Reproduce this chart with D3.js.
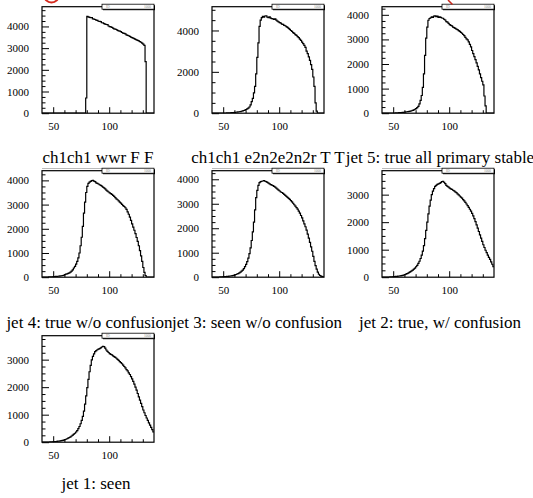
<!DOCTYPE html>
<html><head><meta charset="utf-8">
<script src="https://cdn.jsdelivr.net/npm/d3@7"></script>
<style>
html,body{margin:0;padding:0;background:#fff;}
svg{display:block;font-family:"Liberation Serif","Times New Roman",Times,serif;}
</style>
</head><body>
<svg id="chart" width="533" height="498"></svg>
<script>
// ---------------- DATA ----------------
const titles = [
  "ch1ch1 wwr F F",
  "ch1ch1 e2n2e2n2r T T",
  "jet 5: true all primary stable",
  "jet 4: true w/o confusion",
  "jet 3: seen w/o confusion",
  "jet 2: true, w/ confusion",
  "jet 1: seen"
];
const xDomain = [40, 140];
const binLow = 40;
const binWidth = 1;
const xMajorTicks = [50, 100];
const xMinorTicks = [60, 70, 80, 90, 110, 120, 130];

// bin contents, bins of width 1 starting at 40 (100 bins)
const hWwrFF = [
  0,0,0,0,0,0,0,0,0,0,
  0,0,0,0,0,0,0,0,0,0,
  0,0,0,0,0,0,0,0,0,0,
  0,0,0,0,0,0,0,0,0,700,
  4460,4440,4420,4400,4410,4350,4340,4320,4290,4280,
  4240,4230,4220,4170,4160,4130,4110,4090,4080,4020,
  3990,3980,3960,3920,3890,3880,3860,3820,3800,3780,
  3760,3720,3690,3680,3660,3610,3590,3570,3540,3510,
  3480,3460,3440,3400,3380,3360,3330,3300,3270,3230,
  3180,3130,2380,0,0,0,0,0,0,0];
const hE2n2TT = [
  0,0,0,0,0,0,0,0,0,0,
  5,8,10,12,15,18,22,26,30,35,
  40,46,52,60,70,80,95,110,130,150,
  180,210,250,300,400,560,720,980,1300,1900,
  2700,3400,4200,4500,4620,4680,4640,4700,4710,4650,
  4620,4660,4600,4570,4560,4530,4560,4500,4450,4420,
  4380,4360,4310,4300,4250,4230,4190,4150,4100,4050,
  4000,3960,3900,3860,3800,3760,3700,3650,3580,3520,
  3440,3360,3280,3180,3000,2880,2720,2550,2350,2120,
  1750,1300,500,100,0,0,0,0,0,0];
const hJet5 = [
  0,0,0,0,0,0,0,0,0,0,
  5,8,10,13,16,20,24,28,32,38,
  44,50,58,66,76,88,100,115,135,160,
  190,230,280,380,520,720,1050,1600,2350,3050,
  3500,3780,3850,3880,3920,3900,3950,3960,3930,3950,
  3890,3920,3900,3870,3860,3820,3790,3720,3700,3650,
  3600,3570,3550,3500,3480,3450,3420,3400,3360,3330,
  3290,3250,3200,3150,3080,3020,2980,2900,2800,2700,
  2550,2420,2300,2180,2050,1900,1760,1600,1450,1300,
  1150,700,300,0,0,0,0,0,0,0];
const hJet4 = [
  0,0,2,4,6,8,10,12,15,18,
  22,26,30,35,40,46,52,60,70,80,
  110,125,140,160,180,210,250,300,380,450,
  540,650,800,1000,1300,1650,2100,2650,3100,3500,
  3750,3880,3930,3960,3990,4000,3970,3950,3900,3880,
  3850,3820,3790,3760,3720,3690,3650,3600,3560,3520,
  3480,3450,3420,3380,3340,3290,3240,3200,3150,3100,
  3060,3010,2960,2920,2870,2800,2700,2600,2480,2350,
  2200,2070,1940,1800,1640,1480,1300,1100,880,650,
  400,200,70,0,0,0,0,0,0,0];
const hJet3 = [
  0,0,2,3,5,7,9,11,14,17,
  20,24,28,32,37,42,48,55,63,72,
  95,110,130,150,175,205,245,290,350,430,
  520,640,780,960,1200,1500,1850,2250,2750,3250,
  3550,3750,3860,3900,3920,3930,3950,3920,3900,3870,
  3840,3810,3780,3760,3740,3710,3680,3640,3600,3560,
  3520,3480,3460,3420,3380,3340,3300,3260,3220,3180,
  3130,3080,3020,2960,2900,2840,2780,2700,2620,2520,
  2420,2300,2180,2060,1920,1760,1600,1420,1240,1060,
  850,650,470,330,210,120,70,40,20,8];
const hJet2 = [
  0,0,0,2,4,6,8,10,13,16,
  20,24,28,33,38,44,50,58,68,80,
  95,110,130,150,175,200,230,260,295,330,
  380,430,500,580,680,800,950,1150,1400,1700,
  2000,2300,2580,2800,3000,3130,3220,3300,3340,3370,
  3390,3410,3440,3470,3480,3450,3400,3340,3300,3270,
  3240,3210,3190,3160,3140,3100,3070,3030,2990,2950,
  2910,2870,2820,2770,2720,2660,2600,2540,2470,2400,
  2320,2230,2130,2020,1900,1780,1660,1540,1420,1300,
  1180,1080,980,890,800,720,650,560,470,380];
const hJet1 = [
  0,0,0,1,3,5,7,9,12,15,
  18,22,26,31,36,42,48,56,66,78,
  92,108,126,146,170,195,225,255,290,325,
  370,420,490,570,670,790,940,1130,1380,1680,
  1980,2280,2560,2790,2990,3120,3210,3290,3330,3360,
  3380,3400,3430,3460,3480,3470,3420,3350,3300,3260,
  3220,3190,3170,3140,3110,3080,3050,3010,2970,2930,
  2890,2850,2800,2750,2700,2640,2590,2520,2460,2380,
  2300,2210,2110,2000,1890,1770,1650,1530,1410,1290,
  1170,1070,970,880,790,700,620,540,460,370];
const series = [hWwrFF, hE2n2TT, hJet5, hJet4, hJet3, hJet2, hJet1];
const yMax = [4910, 5150, 4330, 4400, 4350, 3870, 3870];
const yMajorStep = [1000, 2000, 1000, 1000, 1000, 1000, 1000];
const yMinorDiv = 4;
const statsLeftText = "ID";
const statsRightText = "1000";

// ---------------- LAYOUT ----------------
const L = {
  colX: [42, 212, 382], rowY: [6.7, 170.7, 335.7], w: 112, h: 106.5,
  titleX: [98, 268, 440, 89.5, 257, 440, 96],
  titleY: [163, 328, 489]
};
const SERIF = '"Liberation Serif","Times New Roman",Times,serif';

const svg = d3.select("#chart");
svg.append("rect").attr("width",533).attr("height",498).attr("fill","#fff");

series.forEach((vals, i) => {
  const col = i % 3, row = Math.floor(i / 3);
  const fx = L.colX[col], fy = L.rowY[row];
  const g = svg.append("g").attr("transform", `translate(${fx},${fy})`);
  const x = d3.scaleLinear().domain(xDomain).range([0, L.w]);
  const y = d3.scaleLinear().domain([0, yMax[i]]).range([L.h, 0]);

  const cid = "clip" + i;
  g.append("clipPath").attr("id", cid).append("rect").attr("width", L.w).attr("height", L.h);

  // histogram step outline
  const pts = [];
  vals.forEach((v, k) => {
    const x0 = binLow + k * binWidth, x1 = x0 + binWidth;
    pts.push([x(x0), y(v)], [x(x1), y(v)]);
  });
  g.append("path").attr("clip-path", `url(#${cid})`)
    .attr("d", d3.line()(pts))
    .attr("fill", "none").attr("stroke", "#000").attr("stroke-width", 1.2);

  // Y axis
  const majors = d3.range(0, yMax[i] + 1e-6, yMajorStep[i]);
  const minors = d3.range(0, yMax[i] + 1e-6, yMajorStep[i] / yMinorDiv).filter(v => majors.indexOf(v) < 0);
  const ya = g.append("g").call(d3.axisLeft(y).tickValues(majors).tickSize(-7).tickPadding(13).tickFormat(d3.format("d")));
  ya.attr("font-family", null);
  ya.select(".domain").remove();
  ya.selectAll("line").attr("stroke", "#000");
  ya.selectAll("text").attr("fill", "#000").style("font-family", SERIF).style("font-size", "11px");
  const ym = g.append("g").call(d3.axisLeft(y).tickValues(minors).tickSize(-3.5).tickFormat(""));
  ym.select(".domain").remove();
  ym.selectAll("line").attr("stroke", "#000");

  // X axis
  const xa = g.append("g").attr("transform", `translate(0,${L.h})`)
    .call(d3.axisBottom(x).tickValues(xMajorTicks).tickSize(-6).tickPadding(9).tickFormat(d3.format("d")));
  xa.attr("font-family", null);
  xa.select(".domain").remove();
  xa.selectAll("line").attr("stroke", "#000");
  xa.selectAll("text").attr("fill", "#000").style("font-family", SERIF).style("font-size", "11px");
  const xm = g.append("g").attr("transform", `translate(0,${L.h})`)
    .call(d3.axisBottom(x).tickValues(xMinorTicks).tickSize(-3).tickFormat(""));
  xm.select(".domain").remove();
  xm.selectAll("line").attr("stroke", "#000");

  // frame
  g.append("rect").attr("width", L.w).attr("height", L.h)
    .attr("fill", "none").attr("stroke", "#000").attr("stroke-width", 1.2);

  // stats box
  const sb = g.append("g").attr("transform", `translate(${L.w - 52},-2.5)`);
  sb.append("rect").attr("x", 1).attr("y", 1).attr("width", 52).attr("height", 5).attr("fill", "#000");
  sb.append("rect").attr("width", 52).attr("height", 5).attr("fill", "#fff").attr("stroke", "#000").attr("stroke-width", 0.8);
  sb.append("text").attr("x", 4).attr("y", 3.8).style("font-size", "3.5px").attr("fill", "#888").text(statsLeftText);
  sb.append("text").attr("x", 49).attr("y", 3.8).style("font-size", "3.5px").attr("fill", "#888").attr("text-anchor", "end").text(statsRightText);

  // title
  svg.append("text").attr("x", L.titleX[i]).attr("y", L.titleY[row])
    .attr("text-anchor", "middle").attr("fill", "#000")
    .style("font-family", SERIF).style("font-size", "17px")
    .text(titles[i]);
  if (row === 0) {
    svg.append("line").attr("x1", fx).attr("x2", fx + L.w).attr("y1", 168.5).attr("y2", 168.5)
      .attr("stroke", "#bbb").attr("stroke-width", 1);
  }
});

// red annotation marks
svg.append("circle").attr("cx", 51.5).attr("cy", -5).attr("r", 7.5)
  .attr("fill", "none").attr("stroke", "#d42a1e").attr("stroke-width", 2);
svg.append("line").attr("x1", 448).attr("y1", 0).attr("x2", 452.5).attr("y2", 4.5)
  .attr("stroke", "#c8281c").attr("stroke-width", 1.5);
</script>
</body></html>
